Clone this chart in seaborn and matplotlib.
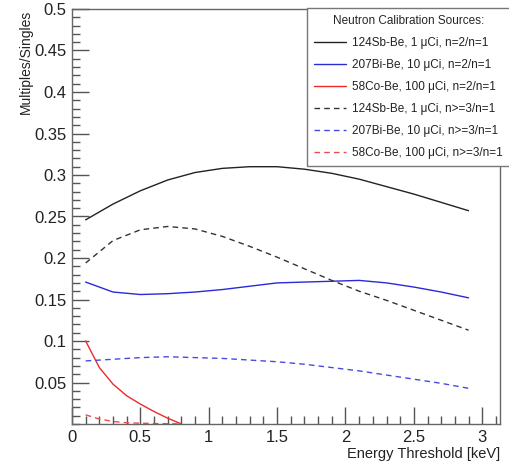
import matplotlib
matplotlib.use("Agg")
import matplotlib.pyplot as plt
import seaborn as sns
import pandas as pd
from matplotlib.ticker import MultipleLocator, FixedLocator, FuncFormatter

sns.set_theme(style="white")
plt.rcParams['font.family'] = ['Liberation Sans', 'DejaVu Sans']

# ---- data ----
x_long = [0.1, 0.3, 0.5, 0.7, 0.9, 1.1, 1.3, 1.5, 1.7, 1.9, 2.1, 2.3, 2.5, 2.7, 2.9]
sb_n2 = [0.246, 0.265, 0.281, 0.294, 0.303, 0.308, 0.310, 0.310, 0.307, 0.302, 0.295, 0.286, 0.277, 0.267, 0.257]
sb_n3 = [0.194, 0.221, 0.234, 0.238, 0.235, 0.226, 0.214, 0.201, 0.187, 0.173, 0.160, 0.149, 0.137, 0.125, 0.113]
bi_n2 = [0.171, 0.159, 0.156, 0.157, 0.159, 0.162, 0.166, 0.170, 0.171, 0.172, 0.173, 0.170, 0.165, 0.159, 0.152]
bi_n3 = [0.076, 0.078, 0.080, 0.081, 0.080, 0.079, 0.077, 0.075, 0.072, 0.068, 0.064, 0.059, 0.054, 0.049, 0.043]
x_short = [0.1, 0.2, 0.3, 0.4, 0.5, 0.6, 0.7, 0.8]
co_n2 = [0.100, 0.068, 0.048, 0.034, 0.024, 0.015, 0.007, 0.0]
co_n3 = [0.011, 0.006, 0.003, 0.0015, 0.001, 0.0006, 0.0003, 0.0001]

labels = [
    "124Sb-Be, 1 \u03bcCi, n=2/n=1",
    "207Bi-Be, 10 \u03bcCi, n=2/n=1",
    "58Co-Be, 100 \u03bcCi, n=2/n=1",
    "124Sb-Be, 1 \u03bcCi, n>=3/n=1",
    "207Bi-Be, 10 \u03bcCi, n>=3/n=1",
    "58Co-Be, 100 \u03bcCi, n>=3/n=1",
]
x_ticks = [0, 0.5, 1, 1.5, 2, 2.5, 3]
y_ticks = [0.05, 0.1, 0.15, 0.2, 0.25, 0.3, 0.35, 0.4, 0.45, 0.5]

series = [
    (x_long, sb_n2, labels[0], "#222222", "-"),
    (x_long, bi_n2, labels[1], "#2a2ad8", "-"),
    (x_short, co_n2, labels[2], "#ee2a2a", "-"),
    (x_long, sb_n3, labels[3], "#333333", (0, (4, 3))),
    (x_long, bi_n3, labels[4], "#4a4ae0", (0, (4, 3))),
    (x_short, co_n3, labels[5], "#ee4a4a", (0, (4, 3))),
]

fig = plt.figure(figsize=(5.10, 4.61), dpi=100)
ax = fig.add_axes([72 / 510, 37 / 461, 428 / 510, 415 / 461])

for xs, ys, lab, col, ls in series:
    df = pd.DataFrame({"x": xs, "y": ys})
    sns.lineplot(data=df, x="x", y="y", ax=ax, color=col, linestyle=ls,
                 linewidth=1.0, label=lab, sort=False)

ax.set_xlim(0, 3.13)
ax.set_ylim(0, 0.5)

ax.xaxis.set_major_locator(FixedLocator(x_ticks))
ax.xaxis.set_minor_locator(MultipleLocator(0.1))
ax.yaxis.set_major_locator(FixedLocator(y_ticks))
ax.yaxis.set_minor_locator(MultipleLocator(0.01))
fmt = FuncFormatter(lambda v, p: "%g" % v)
ax.xaxis.set_major_formatter(fmt)
ax.yaxis.set_major_formatter(fmt)

ax.tick_params(which="both", direction="in", colors="#555555", labelcolor="#222222",
               top=False, right=False, bottom=True, left=True)
ax.tick_params(which="major", length=12, width=1, labelsize=12, pad=4)
ax.tick_params(which="minor", length=6, width=1)
for sp in ax.spines.values():
    sp.set_color("#666666")
    sp.set_linewidth(1.0)

ax.set_xlabel("Energy Threshold [keV]", fontsize=10.5, color="#222222", loc="right")
ax.xaxis.set_label_coords(1.0, -0.055)
ax.set_ylabel("Multiples/Singles", fontsize=10, color="#222222", loc="top")
ax.yaxis.set_label_coords(-0.091, 0.998)

leg = ax.legend(loc="upper left", bbox_to_anchor=(307 / 510, 453 / 461),
                bbox_transform=fig.transFigure, title="Neutron Calibration Sources:",
                fontsize=8.5, title_fontsize=8.5, frameon=True, fancybox=False,
                framealpha=1, edgecolor="#777777", borderpad=0.6,
                labelspacing=0.85, handlelength=2.7, handletextpad=0.55,
                borderaxespad=0)
leg.get_frame().set_linewidth(1.0)
for t in leg.get_texts():
    t.set_color("#222222")

fig.savefig("out.png", dpi=100)
